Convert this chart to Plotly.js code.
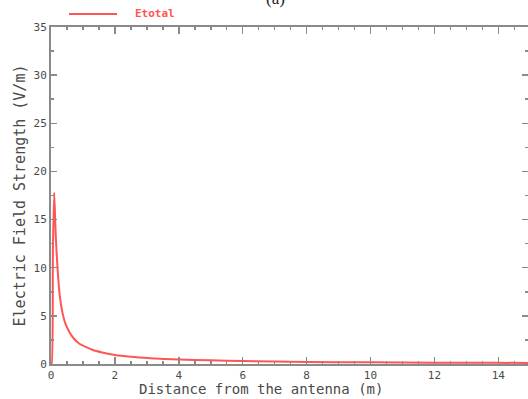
<!DOCTYPE html>
<html>
<head>
<meta charset="utf-8">
<script src="https://cdn.plot.ly/plotly-3.0.1.min.js"></script>
<style>html,body{margin:0;padding:0;background:#fff;}#chart{width:528px;height:399px;}</style>
</head>
<body>
<div id="chart"></div>
<script>
// Distance from the antenna (m)
const distance = [0, 0.02, 0.06, 0.1, 0.15, 0.2, 0.27, 0.36, 0.45, 0.58, 0.7, 0.89, 1.1, 1.31, 1.6, 2, 2.5, 3.1, 4, 5, 6, 8, 10, 12, 14, 15];
// Electric field strength Etotal (V/m)
const eTotal = [0, 0, 12, 17.8, 13.2, 10.2, 7.2, 5.3, 4.2, 3.3, 2.7, 2.1, 1.75, 1.45, 1.2, 0.93, 0.74, 0.6, 0.47, 0.38, 0.3, 0.22, 0.17, 0.14, 0.12, 0.11];
const seriesName = 'Etotal';
const xTickVals = [0, 2, 4, 6, 8, 10, 12, 14];
const xTickText = ['0', '2', '4', '6', '8', '10', '12', '14'];
const yTickVals = [0, 5, 10, 15, 20, 25, 30, 35];
const yTickText = ['0', '5', '10', '15', '20', '25', '30', '35'];

const axisColor = '#8a8a8a';
const textColor = '#4a4a4a';
const lineColor = '#ff5555';
const fontFam = 'DejaVu Sans Mono, monospace';

const trace = {
  x: distance, y: eTotal, type: 'scatter', mode: 'lines', name: seriesName,
  line: {color: lineColor, width: 2, shape: 'spline', smoothing: 0.6}
};

const axisCommon = {
  showgrid: false, zeroline: false, showline: true, linecolor: axisColor, linewidth: 2,
  mirror: 'allticks', ticks: 'inside', tickcolor: axisColor, tickwidth: 1.5,
  tickfont: {family: fontFam, size: 11, color: textColor}
};

const layout = {
  width: 528, height: 399,
  margin: {l: 51, r: 0, t: 27, b: 35},
  paper_bgcolor: '#fff', plot_bgcolor: '#fff',
  showlegend: false,
  xaxis: Object.assign({}, axisCommon, {
    range: [0, 14.93], tickvals: xTickVals, ticktext: xTickText, ticklen: 7,
    minor: {dtick: 0.5, ticks: 'inside', ticklen: 3, tickcolor: axisColor, tickwidth: 1.5}
  }),
  yaxis: Object.assign({}, axisCommon, {
    range: [0, 35], tickvals: yTickVals, ticktext: yTickText, ticklen: 6,
    minor: {dtick: 2.5, ticks: 'inside', ticklen: 3, tickcolor: axisColor, tickwidth: 1.5},
    title: {text: 'Electric Field Strength (V/m)', standoff: 4,
            font: {family: fontFam, size: 15, color: textColor}}
  }),
  shapes: [{
    type: 'line', xref: 'paper', yref: 'paper',
    x0: 18 / 477, x1: 66 / 477, y0: 1 + 13 / 337, y1: 1 + 13 / 337,
    line: {color: lineColor, width: 2}
  }],
  annotations: [{
    text: '(a)', xref: 'paper', yref: 'paper', x: 0.47, y: 1, xanchor: 'center', yanchor: 'bottom',
    yshift: 17, showarrow: false, font: {family: 'Liberation Serif, serif', size: 17, color: '#222'}
  }, {
    text: seriesName, xref: 'paper', yref: 'paper', x: 82 / 477, y: 1 + 13 / 337,
    xanchor: 'left', yanchor: 'middle', showarrow: false,
    font: {family: fontFam, size: 11, color: lineColor, weight: 'bold'}
  }, {
    text: 'Distance from the antenna (m)', xref: 'paper', yref: 'paper', x: 0.44, y: 0,
    xanchor: 'center', yanchor: 'middle', yshift: -25, showarrow: false,
    font: {family: fontFam, size: 14, color: textColor}
  }]
};

Plotly.newPlot('chart', [trace], layout, {displayModeBar: false, staticPlot: true});
</script>
</body>
</html>
